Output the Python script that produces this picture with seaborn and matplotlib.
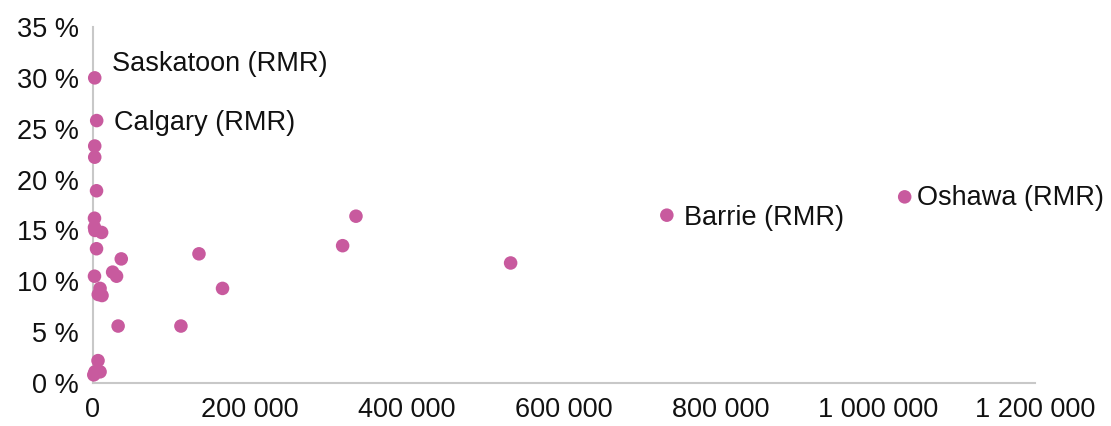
import matplotlib
matplotlib.use("Agg")
import matplotlib.pyplot as plt
from matplotlib.ticker import FuncFormatter, MultipleLocator
import seaborn as sns
import pandas as pd

# Population (x) versus growth rate in percent (y)
population = [
    2200, 4700, 2200, 2200, 4500, 1900, 1900, 2500, 11000, 4500,
    36000, 135000, 335000, 318000, 532000, 25000, 30000, 1900, 9000, 11500,
    6700, 165000, 32000, 112000, 6400, 2500, 9000, 1000, 731000, 1034000,
]
rate = [
    30.0, 25.8, 23.3, 22.2, 18.9, 16.2, 15.3, 15.0, 14.8, 13.2,
    12.2, 12.7, 16.4, 13.5, 11.8, 10.9, 10.5, 10.5, 9.3, 8.6,
    8.7, 9.3, 5.6, 5.6, 2.2, 1.1, 1.1, 0.8, 16.5, 18.3,
]
names = [
    "Saskatoon (RMR)", "Calgary (RMR)", "", "", "", "", "", "", "", "",
    "", "", "", "", "", "", "", "", "", "",
    "", "", "", "", "", "", "", "", "Barrie (RMR)", "Oshawa (RMR)",
]
# label offsets in pixels (dx, dy)
label_offsets = {
    "Saskatoon (RMR)": (17, 14),
    "Calgary (RMR)": (17, -2),
    "Barrie (RMR)": (17, -3),
    "Oshawa (RMR)": (12, -1),
}

df = pd.DataFrame({"population": population, "rate": rate, "name": names})

sns.set_style("white")
plt.rcParams["font.family"] = ["Liberation Sans", "DejaVu Sans"]

point_color = "#C85A9E"
axis_color = "#C8C8C8"
text_size = 19.5

fig = plt.figure(figsize=(11.11, 4.26), dpi=100)
ax = fig.add_axes([93 / 1111, 43 / 426, (1035 - 93) / 1111, (383 - 27) / 426])

sns.scatterplot(data=df, x="population", y="rate", ax=ax, color=point_color,
                s=95, edgecolor="none", linewidth=0, zorder=3, clip_on=False)

for _, row in df[df["name"] != ""].iterrows():
    dx, dy = label_offsets[row["name"]]
    ax.annotate(row["name"], (row["population"], row["rate"]),
                xytext=(dx, dy), textcoords="offset pixels",
                ha="left", va="center", fontsize=text_size, color="#111111")

ax.set_xlim(0, 1200000)
ax.set_ylim(0, 35)
ax.xaxis.set_major_locator(MultipleLocator(200000))
ax.yaxis.set_major_locator(MultipleLocator(5))
ax.xaxis.set_major_formatter(FuncFormatter(lambda v, p: f"{int(v):,}".replace(",", " ")))
ax.yaxis.set_major_formatter(FuncFormatter(lambda v, p: f"{int(v)} %"))

ax.set_xlabel("")
ax.set_ylabel("")
ax.tick_params(axis="both", length=0, labelsize=text_size, labelcolor="#111111")
ax.tick_params(axis="x", pad=10)
ax.tick_params(axis="y", pad=10)

for side in ("top", "right"):
    ax.spines[side].set_visible(False)
for side in ("left", "bottom"):
    ax.spines[side].set_color(axis_color)
    ax.spines[side].set_linewidth(1.5)

fig.savefig("out.png", dpi=100)
